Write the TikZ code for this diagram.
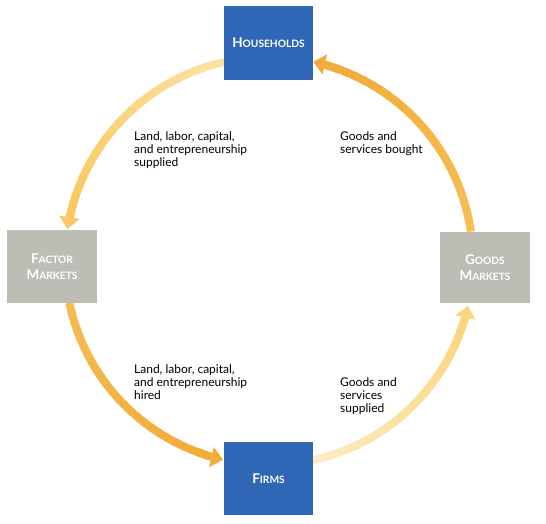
\documentclass[tikz,border=0pt]{standalone}
\usepackage{fontspec}
\setmainfont{Lato}
\usetikzlibrary{arrows.meta,calc}
\definecolor{boxblue}{HTML}{3066B6}
\definecolor{boxgray}{HTML}{BDBCB5}
\definecolor{paleA}{HTML}{FCE2A2}
\definecolor{midA}{HTML}{F9C862}
\definecolor{orA}{HTML}{F5BC52}
\definecolor{orB}{HTML}{F1AC3A}
\definecolor{paleB}{HTML}{FDEBC2}
\definecolor{midB}{HTML}{FBD57F}
\newcommand{\fsc}[2]{{\fontsize{13.5}{16}\selectfont #1}{\fontsize{10.2}{16}\selectfont #2}}
\newcommand{\gradarc}[4]{%
  \foreach \i in {0,...,23} {
    \pgfmathsetmacro\aa{#1+((#2-5)-#1)*\i/24}
    \pgfmathsetmacro\bb{#1+((#2-5)-#1)*(\i+1.4)/24}
    \pgfmathsetmacro\pc{100-100*\i/23}
    \draw[flow, color=#3!\pc!#4] ($(C)+(\aa:204)$) arc[start angle=\aa, end angle=\bb, radius=204];
  }
  \pgfmathsetmacro\cc{#2-8}
  \draw[flow, color=#4, -{Triangle[width=20pt,length=12pt]}] ($(C)+(\cc:204)$) arc[start angle=\cc, end angle=#2, radius=204];
}
\tikzset{
  flow/.style={line width=8pt},
  bluebox/.style={fill=boxblue, minimum width=89pt, minimum height=74pt, inner sep=0pt, text=white, font=\bfseries\fontsize{13.5}{16}\selectfont, align=center},
  graybox/.style={fill=boxgray, minimum width=90pt, minimum height=73pt, inner sep=0pt, text=white, font=\bfseries\fontsize{13.5}{16}\selectfont, align=center},
  lbl/.style={anchor=north west, inner sep=0pt, align=left, font=\fontsize{12}{13}\selectfont}
}
\begin{document}
\begin{tikzpicture}[x=1pt,y=1pt]
\useasboundingbox (0,0) rectangle (546,524);
\coordinate (C) at (269,263);
% flows
\gradarc{102.7}{171}{paleA}{midA}
\gradarc{191.8}{257}{orA}{orB}
\gradarc{282.3}{347.3}{paleB}{midB}
\gradarc{8.3}{77.5}{orA!80!midA}{orB}
% boxes
\node[bluebox] (hh) at (268.5,481) {\fsc{H}{OUSEHOLDS}};
\node[bluebox, minimum height=73pt] (firms) at (268.5,45.5) {\fsc{F}{IRMS}};
\node[graybox] (fm) at (52,257.5) {\fsc{F}{ACTOR}\\\fsc{M}{ARKETS}};
\node[graybox, minimum height=71pt] (gm) at (485,256.5) {\fsc{G}{OODS}\\\fsc{M}{ARKETS}};
% labels
\node[lbl] (l1) at (134,393) {Land, labor, capital,\\and entrepreneurship\\supplied};
\node[lbl] (l2) at (340,393) {Goods and\\services bought};
\node[lbl] (l3) at (134,160) {Land, labor, capital,\\and entrepreneurship\\hired};
\node[lbl] (l4) at (340,147) {Goods and\\services\\supplied};
\end{tikzpicture}
\end{document}
